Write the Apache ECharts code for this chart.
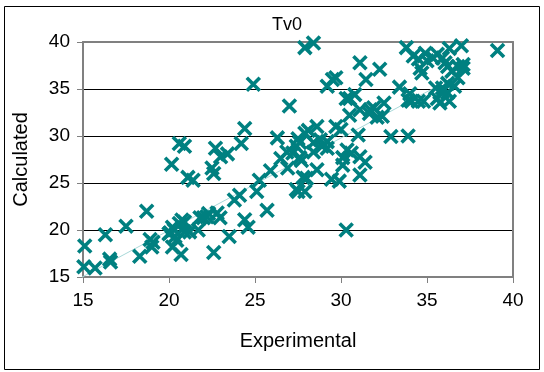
<!DOCTYPE html>
<html><head><meta charset="utf-8">
<script src="https://cdn.jsdelivr.net/npm/echarts@6/dist/echarts.min.js"></script>
<style>html,body{margin:0;padding:0;background:#fff}#c{width:544px;height:372px}</style>
</head><body><div id="c"></div>
<script>
// Experimental (x) values
var expX = [15.1,15.05,15.7,16.3,16.55,16.6,17.5,18.3,18.7,18.9,19.0,19.07,20.0,20.06,20.15,20.2,20.2,20.3,20.35,20.45,
20.6,20.9,20.7,20.6,20.75,20.9,20.9,21.2,21.1,21.4,21.7,21.8,22.0,22.2,22.3,22.5,22.6,22.6,22.7,22.8,
22.97,23.0,23.4,23.5,23.8,24.1,24.2,24.4,24.4,24.6,24.9,25.1,25.25,25.7,25.9,26.3,26.5,26.85,26.9,27.0,
27.2,27.4,27.6,27.5,27.9,28.1,28.6,28.4,28.8,29.2,28.9,29.2,27.6,27.7,27.8,27.4,27.5,27.9,28.0,28.6,
27.9,28.4,28.4,29.2,29.45,29.9,29.7,30.0,29.5,29.7,30.1,30.1,30.35,30.6,30.3,30.3,30.5,30.8,30.5,31.0,
31.1,31.1,31.4,31.1,31.45,31.1,31.7,31.65,32.1,31.9,32.25,32.5,32.4,32.9,33.4,33.8,33.9,33.9,34.0,34.1,
34.2,34.5,34.5,34.6,34.7,34.8,34.9,35.0,35.3,35.35,35.5,35.6,35.6,35.75,35.9,35.9,35.9,36.05,36.2,36.3,
36.2,36.2,36.3,36.45,36.6,36.8,36.8,37.0,37.1,37.1,39.1];
// Calculated (y) values
var calcY = [18.3,16.1,15.95,19.5,16.9,16.6,20.4,17.2,22.0,19.0,18.2,18.7,19.6,19.7,27.0,18.2,20.3,20.0,19.3,18.9,
29.2,28.9,17.4,20.7,21.06,20.85,19.8,19.8,25.6,25.3,20.0,21.3,21.3,21.4,21.75,26.6,26.0,17.6,28.7,21.8,
21.3,27.8,28.1,19.3,23.2,23.7,29.2,30.8,21.1,20.3,35.5,24.1,25.3,22.1,26.3,29.8,27.6,28.3,26.6,33.2,
28.2,28.9,29.3,29.7,30.3,30.6,31.0,29.3,29.6,28.7,28.9,29.4,27.7,27.4,25.6,24.3,24.1,24.1,25.5,26.4,
39.4,39.9,28.3,35.3,25.4,25.2,31.0,30.7,36.0,36.2,27.7,26.9,28.5,28.2,20.0,34.0,34.0,34.4,32.2,30.1,
37.8,27.8,27.2,25.85,36.0,32.8,32.8,32.4,32.0,33.0,37.1,33.5,32.1,29.95,35.2,39.4,30.0,33.8,34.5,33.7,
38.5,38.2,33.7,37.2,36.7,33.7,38.8,38.0,40.1,38.3,35.1,38.7,34.0,33.5,38.3,34.7,35.1,37.8,35.6,39.3,
37.4,34.6,33.7,36.9,35.3,36.2,37.4,39.6,37.2,37.6,39.1];
// trend line end points
var trendX = [14.65, 35.3];
var trendY = [14.7, 35.0];
var xTicks = [15,20,25,30,35,40];
var yTicks = [15,20,25,30,35,40];
var titleText = 'Tv0';
var xName = 'Experimental';
var yName = 'Calculated';

var pts = expX.map(function(x,i){return [x, calcY[i]];});
var trend = trendX.map(function(x,i){return [x, trendY[i]];});
var FONT = '"Liberation Sans", Arial, sans-serif';
var chart = echarts.init(document.getElementById('c'), null, {renderer:'canvas'});
chart.setOption({
  animation:false,
  title:{text:titleText, left:282, top:11, textAlign:'center',
    textStyle:{fontFamily:FONT, fontSize:18, fontWeight:'normal', color:'#000'}},
  graphic:[{type:'rect', shape:{x:4.5,y:6.5,width:535,height:363}, style:{fill:'none', stroke:'#000', lineWidth:1}, silent:true}],
  grid:{left:83, top:42, right:31, bottom:95, show:false},
  xAxis:[{type:'value', min:xTicks[0], max:xTicks[xTicks.length-1], interval:5,
    name:xName, nameLocation:'middle', nameGap:54,
    nameTextStyle:{fontFamily:FONT, fontSize:20, color:'#000'},
    axisLine:{show:true, lineStyle:{color:'#808080', width:2}},
    axisTick:{show:true, inside:false, length:6, lineStyle:{color:'#808080', width:1}},
    axisLabel:{fontFamily:FONT, fontSize:19, color:'#000', margin:14},
    splitLine:{show:false}},
   {type:'value', position:'top', min:15, max:40, interval:5,
    axisLine:{show:true, onZero:false, lineStyle:{color:'#808080', width:2}},
    axisTick:{show:false}, axisLabel:{show:false}, splitLine:{show:false}}],
  yAxis:[{type:'value', min:yTicks[0], max:yTicks[yTicks.length-1], interval:5,
    name:yName, nameLocation:'middle', nameGap:52,
    nameTextStyle:{fontFamily:FONT, fontSize:20, color:'#000'},
    axisLine:{show:true, lineStyle:{color:'#808080', width:2}},
    axisTick:{show:true, inside:false, length:6, lineStyle:{color:'#808080', width:1}},
    axisLabel:{fontFamily:FONT, fontSize:19, color:'#000', margin:13},
    splitLine:{show:true, lineStyle:{color:'#000', width:1}}},
   {type:'value', position:'right', min:15, max:40, interval:5,
    axisLine:{show:true, onZero:false, lineStyle:{color:'#808080', width:2}},
    axisTick:{show:false}, axisLabel:{show:false}, splitLine:{show:false}}],
  series:[
    {type:'line', data:trend, symbol:'none', clip:false, silent:true, z:1,
     lineStyle:{color:'#a8d8d8', width:1}},
    {type:'scatter', data:pts, z:3,
     symbol:'path://M0,0L10,10M10,0L0,10', symbolSize:13,
     itemStyle:{color:'#008080', borderColor:'#008080', borderWidth:3.6, opacity:1}}
  ]
});
</script></body></html>
